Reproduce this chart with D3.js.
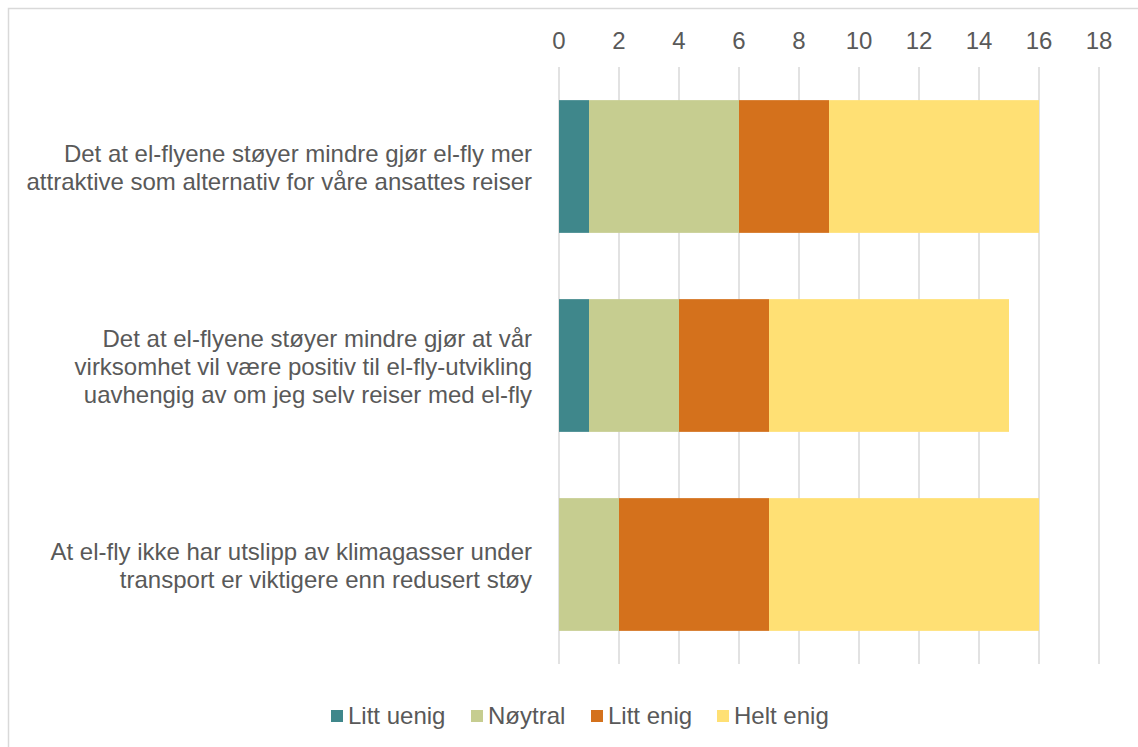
<!DOCTYPE html>
<html>
<head>
<meta charset="utf-8">
<script src="https://cdn.jsdelivr.net/npm/d3@7"></script>
<style>
  body { margin: 0; background: #fff; }
  text { font-family: "Liberation Sans", Arial, sans-serif; fill: #595959; }
</style>
</head>
<body>
<script>
// Chart data
var categories = [
  ["Det at el-flyene støyer mindre gjør el-fly mer", "attraktive som alternativ for våre ansattes reiser"],
  ["Det at el-flyene støyer mindre gjør at vår", "virksomhet vil være positiv til el-fly-utvikling", "uavhengig av om jeg selv reiser med el-fly"],
  ["At el-fly ikke har utslipp av klimagasser under", "transport er viktigere enn redusert støy"]
];
var seriesNames = ["Litt uenig", "Nøytral", "Litt enig", "Helt enig"];
var litt_uenig = [1, 1, 0];
var noytral = [5, 3, 2];
var litt_enig = [3, 3, 5];
var helt_enig = [7, 8, 9];
var ticks = [0, 2, 4, 6, 8, 10, 12, 14, 16, 18];
var colors = ["#3f878b", "#c6cd90", "#d4711c", "#ffe074"];

var width = 1138, height = 747;

var svg = d3.select("body").append("svg")
  .attr("width", width)
  .attr("height", height);

// outer border
svg.append("rect")
  .attr("x", 8.5).attr("y", 8.5)
  .attr("width", 1140).attr("height", 760)
  .attr("fill", "none")
  .attr("stroke", "#d9d9d9")
  .attr("stroke-width", 1.5);

var x = d3.scaleLinear().domain([0, 18]).range([559, 1099]);
var y = d3.scaleBand().domain(d3.range(categories.length))
  .range([67, 664])
  .paddingInner(0.333).paddingOuter(0.1665);

// gridlines
svg.selectAll(".grid").data(ticks).enter().append("line")
  .attr("x1", d => x(d)).attr("x2", d => x(d))
  .attr("y1", 67).attr("y2", 664)
  .attr("stroke", "#d9d9d9").attr("stroke-width", 1.5);

// tick labels at the top
svg.selectAll(".tick").data(ticks).enter().append("text")
  .attr("x", d => x(d)).attr("y", 49)
  .attr("text-anchor", "middle")
  .style("font-size", "24px")
  .text(d => d);

// stacked bars
var table = categories.map((c, i) => ({
  i: i,
  "Litt uenig": litt_uenig[i],
  "Nøytral": noytral[i],
  "Litt enig": litt_enig[i],
  "Helt enig": helt_enig[i]
}));
var stacked = d3.stack().keys(seriesNames)(table);

svg.selectAll(".series").data(stacked).enter().append("g")
  .attr("fill", (d, k) => colors[k])
  .selectAll("rect").data(d => d).enter().append("rect")
  .attr("x", d => x(d[0]))
  .attr("width", d => x(d[1]) - x(d[0]))
  .attr("y", d => y(d.data.i))
  .attr("height", y.bandwidth());

// category labels
categories.forEach(function(lines, i) {
  var cy = y(i) + y.bandwidth() / 2;
  var lh = 28;
  var t = svg.append("text")
    .attr("text-anchor", "end")
    .style("font-size", "24px");
  lines.forEach(function(l, j) {
    t.append("tspan")
      .attr("x", 532)
      .attr("y", cy + (j - (lines.length - 1) / 2) * lh + 9)
      .text(l);
  });
});

// legend
var legendX = [331, 471, 591, 717];
var legend = svg.selectAll(".legend").data(seriesNames).enter().append("g")
  .attr("transform", (d, k) => "translate(" + legendX[k] + ",710)");
legend.append("rect")
  .attr("width", 12).attr("height", 12)
  .attr("fill", (d, k) => colors[k]);
legend.append("text")
  .attr("x", 17).attr("y", 14)
  .style("font-size", "24px")
  .text(d => d);
</script>
</body>
</html>
